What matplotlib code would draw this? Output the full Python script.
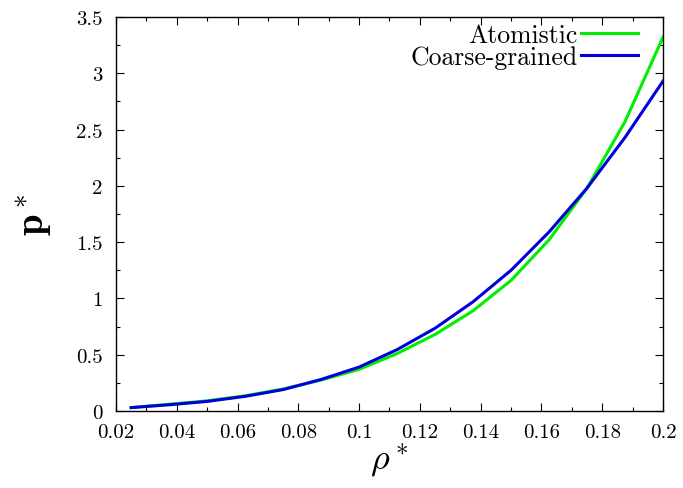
import matplotlib
matplotlib.use("Agg")
import matplotlib.pyplot as plt
from matplotlib.ticker import MultipleLocator, FuncFormatter

rho = [0.025, 0.0375, 0.05, 0.0625, 0.075, 0.0875, 0.1, 0.1125, 0.125,
       0.1375, 0.15, 0.1625, 0.175, 0.1875, 0.2]
p_atomistic = [0.03, 0.06, 0.09, 0.135, 0.195, 0.275, 0.37, 0.51, 0.68,
               0.89, 1.16, 1.52, 1.98, 2.57, 3.32]
p_cg = [0.03, 0.055, 0.085, 0.13, 0.19, 0.28, 0.39, 0.545, 0.735,
        0.97, 1.25, 1.59, 1.98, 2.43, 2.93]

plt.rcParams['font.family'] = ['cmr10', 'DejaVu Serif']
plt.rcParams['mathtext.fontset'] = 'cm'
plt.rcParams['axes.formatter.use_mathtext'] = True

fig = plt.figure(figsize=(6.83, 4.89), dpi=100)
ax = fig.add_axes([0.1698, 0.1575, 0.8009, 0.8057])

ax.plot(rho, p_atomistic, color='#00ee00', lw=2.2, label='Atomistic')
ax.plot(rho, p_cg, color='#0000dd', lw=2.2, label='Coarse-grained')

ax.set_xlim(0.02, 0.2)
ax.set_ylim(0, 3.5)
ax.xaxis.set_major_locator(MultipleLocator(0.02))
ax.xaxis.set_minor_locator(MultipleLocator(0.01))
ax.yaxis.set_major_locator(MultipleLocator(0.5))
ax.yaxis.set_minor_locator(MultipleLocator(0.25))

def fmt(v, pos):
    return ('%.2f' % v).rstrip('0').rstrip('.')
ax.xaxis.set_major_formatter(FuncFormatter(fmt))
ax.yaxis.set_major_formatter(FuncFormatter(fmt))

ax.tick_params(which='both', direction='in', top=True, right=True, labelsize=15)
ax.tick_params(which='major', length=5.5, width=0.8)
ax.tick_params(which='minor', length=3, width=0.8)
ax.tick_params(axis='x', pad=8.5)
ax.tick_params(axis='y', pad=9.5)
for s in ax.spines.values():
    s.set_linewidth(1.0)

ax.set_xlabel(r'$\rho^*$', fontsize=26, labelpad=0)
ax.set_ylabel(r'$\mathbf{p}^*$', fontsize=28, labelpad=16)

leg = ax.legend(loc='upper right', frameon=False, markerfirst=False,
                fontsize=18.5, handlelength=2.2, handletextpad=0.15,
                borderaxespad=0.0, borderpad=0.0, labelspacing=-0.05,
                bbox_to_anchor=(0.954, 0.985))
for t in leg.get_texts():
    t.set_ha('right')

fig.savefig('out.png', dpi=100)
